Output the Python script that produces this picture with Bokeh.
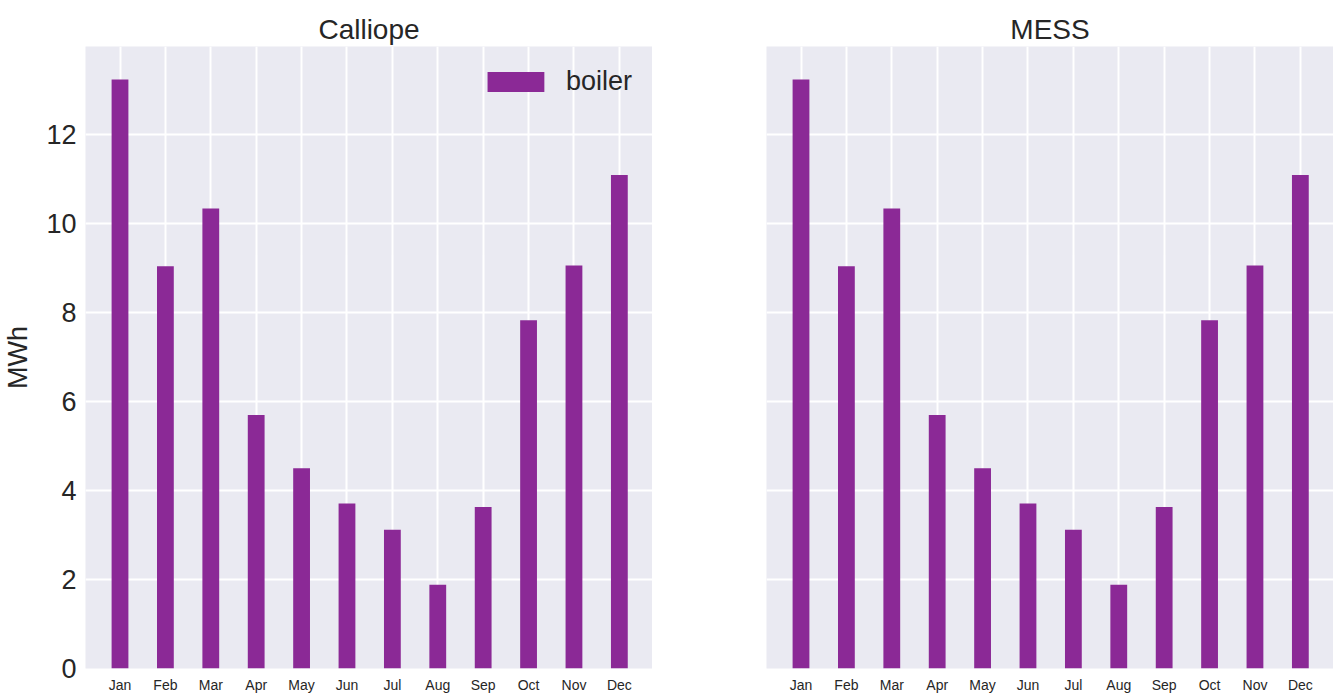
from bokeh.plotting import figure
from bokeh.layouts import row
from bokeh.models import ColumnDataSource, FixedTicker, Range1d, Legend, LegendItem
from bokeh.embed import file_html
from bokeh.resources import INLINE

months = ["Jan", "Feb", "Mar", "Apr", "May", "Jun", "Jul", "Aug", "Sep", "Oct", "Nov", "Dec"]
calliope_boiler = [13.24, 9.04, 10.34, 5.70, 4.50, 3.71, 3.12, 1.88, 3.63, 7.83, 9.06, 11.09]
mess_boiler = [13.24, 9.04, 10.34, 5.70, 4.50, 3.71, 3.12, 1.88, 3.63, 7.83, 9.06, 11.09]
panel_titles = ["Calliope", "MESS"]
y_ticks = [0, 2, 4, 6, 8, 10, 12]
y_label = "MWh"
series_name = "boiler"

BAR = "#8B2996"
BG = "#EAEAF2"
TXT = "#262626"
FONT = "Liberation Sans"

FW, FH = 567, 622


def make_panel(title, values, left_border, show_y):
    src = ColumnDataSource(dict(x=list(range(len(months))), top=values))
    p = figure(output_backend="svg", toolbar_location=None,
               frame_width=FW, frame_height=FH,
               x_range=Range1d(-0.76, 11.73), y_range=Range1d(0, 13.98),
               min_border_left=left_border, min_border_right=0,
               min_border_top=46, min_border_bottom=20)
    p.background_fill_color = BG
    p.border_fill_color = "white"
    p.outline_line_color = None
    r = p.vbar(x="x", top="top", bottom=0, width=0.37, source=src,
               fill_color=BAR, line_color=None)

    p.title.text = title
    p.title.align = "center"
    p.title.text_font = FONT
    p.title.text_font_size = "28px"
    p.title.text_font_style = "normal"
    p.title.text_color = TXT
    p.title.standoff = 3

    p.xaxis.ticker = FixedTicker(ticks=list(range(len(months))))
    p.xaxis.major_label_overrides = {i: m for i, m in enumerate(months)}
    p.yaxis.ticker = FixedTicker(ticks=y_ticks)
    for ax in (p.xaxis, p.yaxis):
        ax.axis_line_color = None
        ax.major_tick_line_color = None
        ax.minor_tick_line_color = None
        ax.major_tick_out = 0
        ax.major_tick_in = 0
        ax.minor_tick_out = 0
        ax.major_label_text_font = FONT
        ax.major_label_text_color = TXT
    p.xaxis.major_label_text_font_size = "14px"
    p.xaxis.major_label_standoff = 8
    p.yaxis.major_label_text_font_size = "27px"
    p.yaxis.major_label_standoff = 9
    if show_y:
        p.yaxis.axis_label = y_label
        p.yaxis.axis_label_text_font = FONT
        p.yaxis.axis_label_text_font_size = "27px"
        p.yaxis.axis_label_text_font_style = "normal"
        p.yaxis.axis_label_text_color = TXT
        p.yaxis.axis_label_standoff = 10
    else:
        p.yaxis.major_label_text_color = None

    p.grid.grid_line_color = "white"
    p.grid.grid_line_width = 2
    return p, r


p1, r1 = make_panel(panel_titles[0], calliope_boiler, 77, True)
p2, r2 = make_panel(panel_titles[1], mess_boiler, 114, False)

legend = Legend(items=[LegendItem(label=series_name, renderers=[r1])],
                location="top_right")
legend.background_fill_alpha = 0
legend.border_line_color = None
legend.margin = 20
legend.padding = 0
legend.glyph_width = 71
legend.glyph_height = 25
legend.label_height = 25
legend.label_standoff = 15
legend.label_text_font = FONT
legend.label_text_font_size = "27px"
legend.label_text_color = TXT
p1.add_layout(legend)

layout = row(p1, p2)
open("out.html", "w").write(file_html(layout, INLINE))
